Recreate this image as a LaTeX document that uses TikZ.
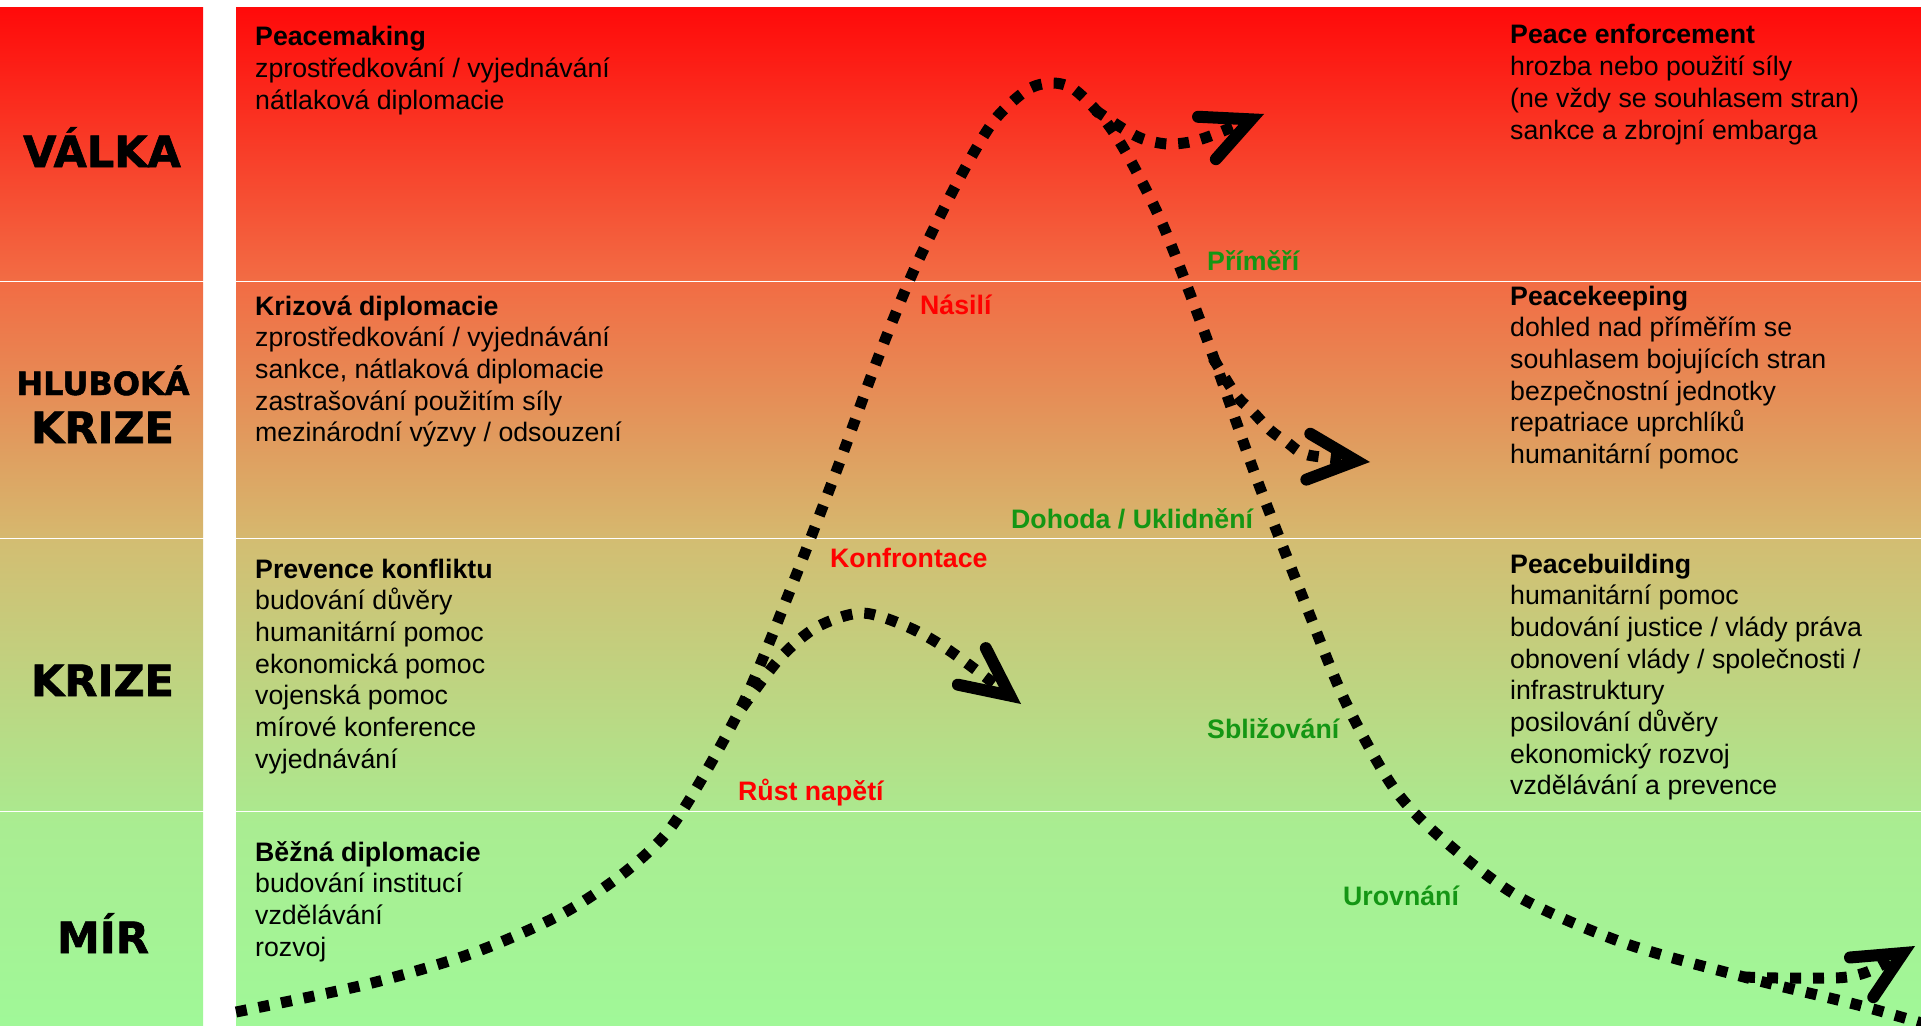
\documentclass[tikz,border=0pt]{standalone}
\usepackage{fontspec}
\setmainfont{Liberation Sans}
\newfontfamily\heavyfont{DejaVu Sans}[FakeBold=1.5]
\usetikzlibrary{arrows.meta}

% band colours, top to bottom
\definecolor{warTop}{RGB}{255,10,10}
\definecolor{warBottom}{RGB}{242,108,68}
\definecolor{deepBottom}{RGB}{214,184,110}
\definecolor{crisisTop}{RGB}{211,189,114}
\definecolor{crisisBottom}{RGB}{172,232,142}
\definecolor{peaceTop}{RGB}{170,236,145}
\definecolor{peaceBottom}{RGB}{160,248,152}
\definecolor{escalRed}{RGB}{255,0,0}
\definecolor{calmGreen}{RGB}{20,150,20}

\newcommand{\itemlines}[1]{\begin{tabular}[t]{@{}l@{}}#1\end{tabular}}

\begin{document}
\begin{tikzpicture}[x=1pt, y=-1pt,
  stage/.style={font=\heavyfont\bfseries\fontsize{43}{50}\selectfont, anchor=base, inner sep=0pt},
  info/.style={font=\fontsize{26.7}{31.7}\selectfont, anchor=base west, inner sep=0pt},
  phase/.style={font=\bfseries\fontsize{26.7}{31.7}\selectfont, anchor=base west, inner sep=0pt},
  dotpath/.style={line width=11pt, dash pattern=on 11pt off 12pt},
  dotarrow/.style={dotpath, -{Straight Barb[length=48pt, width=46pt, line width=12pt, line cap=round, line join=miter]}}]
  \useasboundingbox (0,0) rectangle (1921,1025);
  \fill[white] (0,0) rectangle (1921,1025);

  % Bands (left column and main panel)
  \foreach \ya/\yb/\ctop/\cbot in {8/280/warTop/warBottom, 282/537/warBottom/deepBottom,
      539/810/crisisTop/crisisBottom, 812/1025/peaceTop/peaceBottom} {
    \shade[top color=\ctop, bottom color=\cbot] (0,\ya) rectangle (203,\yb);
    \shade[top color=\ctop, bottom color=\cbot] (236,\ya) rectangle (1921,\yb);
  }

  % Stage names
  \node[stage] (valka) at (102,167) {VÁLKA};
  \node[stage, font=\heavyfont\bfseries\fontsize{32}{38}\selectfont] (hluboka) at (103,395) {HLUBOKÁ};
  \node[stage] (krizeA) at (102.5,443) {KRIZE};
  \node[stage] (krizeB) at (102.5,696) {KRIZE};
  \node[stage] (mir) at (103,953) {MÍR};

  % Tools on the way up
  \node[info] (making) at (255,46) {\itemlines{\textbf{Peacemaking}\\
    zprostředkování / vyjednávání\\ nátlaková diplomacie}};
  \node[info] (crisisdipl) at (255,315) {\itemlines{\textbf{Krizová diplomacie}\\
    zprostředkování / vyjednávání\\ sankce, nátlaková diplomacie\\
    zastrašování použitím síly\\ mezinárodní výzvy / odsouzení}};
  \node[info] (prevention) at (255,578) {\itemlines{\textbf{Prevence konfliktu}\\
    budování důvěry\\ humanitární pomoc\\ ekonomická pomoc\\ vojenská pomoc\\
    mírové konference\\ vyjednávání}};
  \node[info] (commondipl) at (255,861) {\itemlines{\textbf{Běžná diplomacie}\\
    budování institucí\\ vzdělávání\\ rozvoj}};

  % Tools on the way down
  \node[info] (enforcement) at (1510,44) {\itemlines{\textbf{Peace enforcement}\\
    hrozba nebo použití síly\\ (ne vždy se souhlasem stran)\\ sankce a zbrojní embarga}};
  \node[info] (keeping) at (1510,305) {\itemlines{\textbf{Peacekeeping}\\
    dohled nad příměřím se\\ souhlasem bojujících stran\\ bezpečnostní jednotky\\
    repatriace uprchlíků\\ humanitární pomoc}};
  \node[info] (building) at (1510,573) {\itemlines{\textbf{Peacebuilding}\\
    humanitární pomoc\\ budování justice / vlády práva\\ obnovení vlády / společnosti /\\
    infrastruktury\\ posilování důvěry\\ ekonomický rozvoj\\ vzdělávání a prevence}};

  % Conflict curve
  \draw[dotpath] plot[smooth, tension=0.5] coordinates {(236,1012) (368,984) (473,953)
    (560,915) (620,876) (665,835) (700,782) (747,695) (793,583) (836,472) (878,358)
    (914,270) (957,183) (993,122) (1027,90) (1052,83) (1075,90) (1107,123) (1133,165)
    (1165,230) (1208,342) (1256,477) (1309,613) (1346,703) (1393,787) (1440,837)
    (1519,897) (1624,943) (1744,977) (1858,1005) (1925,1024)};

  % Branches
  \draw[dotarrow] plot[smooth, tension=0.5] coordinates {(742,708) (780,658) (817,627)
    (862,613) (908,627) (950,651) (1021,704)};
  \draw[dotarrow] plot[smooth, tension=0.5] coordinates {(1095,110) (1122,128) (1143,139)
    (1167,144) (1190,142) (1213,135) (1264,114)};
  \draw[dotarrow] plot[smooth, tension=0.5] coordinates {(1213,358) (1236,395) (1253,412)
    (1270,430) (1288,443) (1308,455) (1370,462)};
  \draw[dotarrow] plot[smooth, tension=0.5] coordinates {(1744,977) (1777,978) (1823,978)
    (1847,977) (1872,970) (1915,946)};

  % Phase labels
  \node[phase, text=escalRed] (rust) at (738,800) {Růst napětí};
  \node[phase, text=escalRed] (konfr) at (830,567) {Konfrontace};
  \node[phase, text=escalRed] (nasili) at (920,314) {Násilí};
  \node[phase, text=calmGreen] (primeri) at (1207,270) {Příměří};
  \node[phase, text=calmGreen] (dohoda) at (1011,528) {Dohoda / Uklidnění};
  \node[phase, text=calmGreen] (sbliz) at (1207,738) {Sbližování};
  \node[phase, text=calmGreen] (urovn) at (1343,905) {Urovnání};
\end{tikzpicture}
\end{document}
